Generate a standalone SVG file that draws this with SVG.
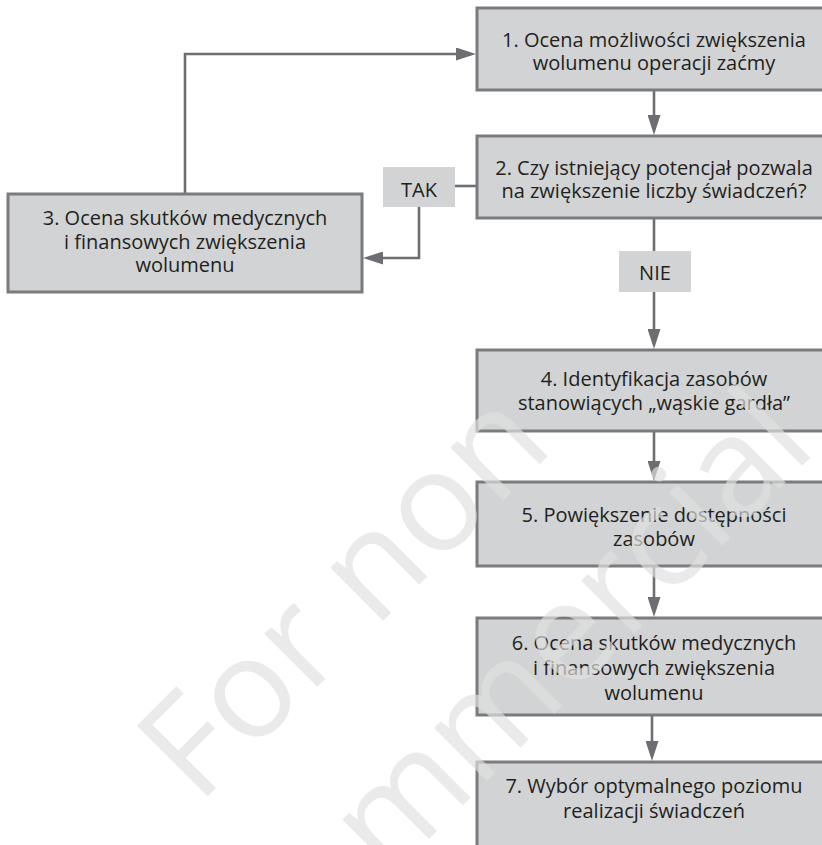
<svg xmlns="http://www.w3.org/2000/svg" width="822" height="845" viewBox="0 0 822 845">
  <defs>
    <style>
      .box { fill: #d1d3d4; stroke: #7a7b7e; stroke-width: 3; }
      .lbl { fill: #d1d3d4; stroke: none; }
      .t { font-family: "Open Sans", "Noto Sans", "Liberation Sans", sans-serif; font-size: 20px; fill: #231f20; text-anchor: middle; }
      .conn { fill: none; stroke: #6d6e71; stroke-width: 2.6; }
      .wm { font-family: "Open Sans", "Noto Sans", "Liberation Sans", sans-serif; font-size: 140px; fill: #e1e1e1; opacity: 0.67; }
    </style>
    <marker id="ah" viewBox="0 0 20 13" refX="0" refY="6.5" markerWidth="20" markerHeight="13" markerUnits="userSpaceOnUse" orient="auto">
      <path d="M0,0 L20,6.5 L0,13 Z" fill="#6d6e71"/>
    </marker>
  </defs>
  <rect x="0" y="0" width="822" height="845" fill="#ffffff"/>

  <g id="connectors">
    <path class="conn" d="M654,90 V115" marker-end="url(#ah)"/>
    <path class="conn" d="M654,219 V251"/>
    <path class="conn" d="M654,292 V329" marker-end="url(#ah)"/>
    <path class="conn" d="M654,431 V461" marker-end="url(#ah)"/>
    <path class="conn" d="M654,566 V597" marker-end="url(#ah)"/>
    <path class="conn" d="M652,715 V741" marker-end="url(#ah)"/>
    <path class="conn" d="M185,193 V54 H456" marker-end="url(#ah)"/>
    <path class="conn" d="M455,186 H477"/>
    <path class="conn" d="M419,207 V258 H383" marker-end="url(#ah)"/>
  </g>

  <g id="node1">
    <rect class="box" x="477" y="8" width="370" height="82"/>
    <text class="t" x="654" y="47">1. Ocena możliwości zwiększenia</text>
    <text class="t" x="654" y="70">wolumenu operacji zaćmy</text>
  </g>
  <g id="node2">
    <rect class="box" x="477" y="136" width="370" height="82"/>
    <text class="t" x="654" y="175">2. Czy istniejący potencjał pozwala</text>
    <text class="t" x="654" y="198">na zwiększenie liczby świadczeń?</text>
  </g>
  <g id="node3">
    <rect class="box" x="8" y="194" width="354" height="98"/>
    <text class="t" x="185" y="225">3. Ocena skutków medycznych</text>
    <text class="t" x="185" y="249">i finansowych zwiększenia</text>
    <text class="t" x="185" y="272">wolumenu</text>
  </g>
  <g id="label-tak">
    <rect class="lbl" x="383" y="167" width="72" height="40"/>
    <text class="t" x="419" y="196.5">TAK</text>
  </g>
  <g id="label-nie">
    <rect class="lbl" x="619" y="251" width="72" height="41"/>
    <text class="t" x="655" y="280">NIE</text>
  </g>
  <g id="node4">
    <rect class="box" x="477" y="350" width="370" height="81"/>
    <text class="t" x="654" y="386">4. Identyfikacja zasobów</text>
    <text class="t" x="654" y="410">stanowiących „wąskie gardła”</text>
  </g>
  <g id="node5">
    <rect class="box" x="477" y="482" width="370" height="84"/>
    <text class="t" x="654" y="521.5">5. Powiększenie dostępności</text>
    <text class="t" x="654" y="546">zasobów</text>
  </g>
  <g id="node6">
    <rect class="box" x="477" y="618" width="370" height="97"/>
    <text class="t" x="654" y="650">6. Ocena skutków medycznych</text>
    <text class="t" x="654" y="675">i finansowych zwiększenia</text>
    <text class="t" x="654" y="700">wolumenu</text>
  </g>
  <g id="node7">
    <rect class="box" x="477" y="762" width="370" height="100"/>
    <text class="t" x="654" y="793">7. Wybór optymalnego poziomu</text>
    <text class="t" x="654" y="817.5">realizacji świadczeń</text>
  </g>

  <g id="watermark">
    <text class="wm" transform="translate(198,806) rotate(-45)">For non</text>
    <text class="wm" transform="translate(280,988) rotate(-45)">commercial</text>
  </g>
</svg>
